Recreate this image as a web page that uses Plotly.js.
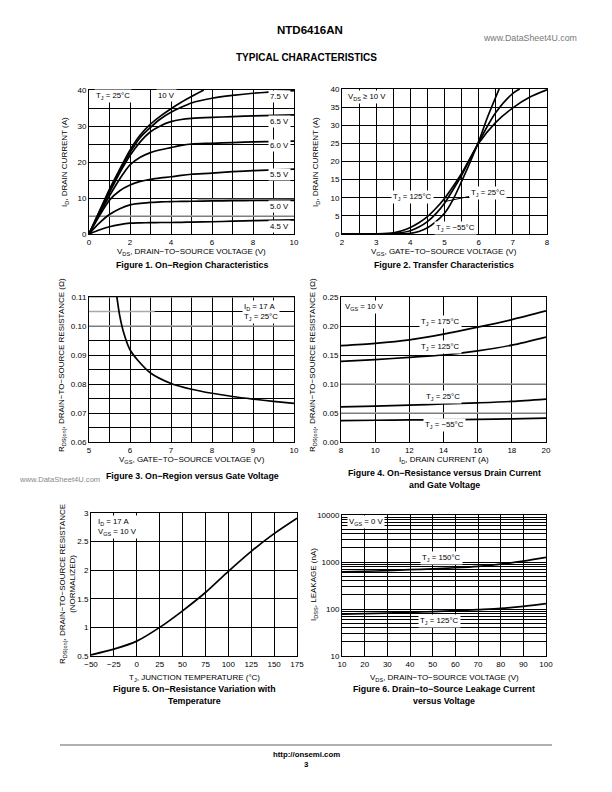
<!DOCTYPE html>
<html><head><meta charset="utf-8">
<script src="https://cdn.plot.ly/plotly-3.0.1.min.js"></script>
<style>html,body{margin:0;padding:0;background:#fff}#chart{width:612px;height:792px}</style>
</head><body><div id="chart"></div>
<script>
// ---------- Figure 1: On-Region Characteristics ----------
const f1_vds = [0, 0.5, 1, 1.5, 2, 2.5, 3, 3.5, 4, 4.5, 5, 6, 7, 8, 10];
const f1_id_45 = [0, 1.1, 2.0, 2.6, 3.0, 3.1, 3.15, 3.2, 3.2, 3.25, 3.3, 3.4, 3.55, 3.7, 3.9];
const f1_id_50 = [0, 3.0, 5.4, 7.0, 8.1, 8.5, 8.8, 8.9, 9.0, 9.05, 9.1, 9.2, 9.25, 9.3, 9.35];
const f1_id_55 = [0, 5.0, 9.4, 12.0, 13.6, 14.6, 15.2, 15.6, 15.9, 16.3, 16.6, 16.9, 17.3, 17.6, 18.0];
const f1_id_60 = [0, 5.5, 10.6, 15.3, 19.2, 21.3, 22.6, 23.4, 24.0, 24.6, 25.0, 25.2, 25.4, 25.6, 25.8];
const f1_id_65 = [0, 6.0, 11.5, 17.0, 21.8, 25.6, 28.4, 30.1, 31.2, 31.8, 32.1, 32.4, 32.6, 32.8, 33.1];
const f1_id_75 = [0, 6.1, 12.0, 17.5, 22.6, 26.8, 29.6, 32.0, 33.8, 35.2, 36.4, 37.7, 38.5, 39.1, 39.8];
const f1_vds_10 = [0, 0.5, 1, 1.5, 2, 2.5, 3, 3.5, 4, 4.5, 5, 5.6];
const f1_id_10 = [0, 6.2, 12.5, 18.0, 23.3, 27.5, 30.5, 32.8, 34.8, 36.6, 38.2, 40];
const f1_labels = ['4.5 V', '5.0 V', '5.5 V', '6.0 V', '6.5 V', '7.5 V', '10 V'];

// ---------- Figure 2: Transfer Characteristics ----------
const f2_vgs_125 = [2, 3, 3.5, 3.75, 4, 4.25, 4.5, 4.75, 5, 5.25, 5.5, 6, 6.5, 7, 7.5, 8];
const f2_id_125 = [0, 0.05, 0.3, 0.9, 1.8, 3.1, 4.8, 7.1, 9.8, 13.1, 16.7, 25, 30.8, 34.8, 37.8, 39.8];
const f2_vgs_25 = [2, 3, 3.5, 4, 4.25, 4.5, 4.75, 5, 5.25, 5.5, 6, 6.5, 7, 7.2];
const f2_id_25 = [0, 0, 0.1, 0.9, 1.9, 3.4, 5.6, 8.5, 12.2, 16.2, 25.3, 33.5, 38.8, 40];
const f2_vgs_m55 = [2, 3.5, 4, 4.25, 4.5, 4.75, 5, 5.25, 5.5, 5.75, 6, 6.25, 6.6];
const f2_id_m55 = [0, 0, 0.2, 0.7, 1.7, 3.4, 5.7, 9.5, 14.5, 19.8, 25.5, 32, 40];

// ---------- Figure 3: On-Region versus Gate Voltage ----------
const f3_vgs = [5.68, 5.75, 5.85, 6.0, 6.2, 6.5, 7.0, 7.5, 8.0, 8.5, 9.0, 9.5, 10.0];
const f3_rds = [0.110, 0.1035, 0.0975, 0.0918, 0.0880, 0.0838, 0.0802, 0.0782, 0.0768, 0.0757, 0.0748, 0.0740, 0.0733];

// ---------- Figure 4: On-Resistance versus Drain Current ----------
const f4_id = [8, 10, 12, 14, 16, 18, 20];
const f4_r175 = [0.166, 0.170, 0.176, 0.186, 0.198, 0.211, 0.226];
const f4_r125 = [0.139, 0.142, 0.146, 0.150, 0.157, 0.167, 0.181];
const f4_r25 = [0.0605, 0.062, 0.0635, 0.0655, 0.0675, 0.0700, 0.0740];
const f4_rm55 = [0.0370, 0.0375, 0.0380, 0.0385, 0.0390, 0.0400, 0.0410];

// ---------- Figure 5: On-Resistance Variation with Temperature ----------
const f5_tj = [-50, -25, 0, 25, 50, 75, 100, 125, 150, 175];
const f5_rn = [0.52, 0.62, 0.76, 1.0, 1.29, 1.61, 1.98, 2.33, 2.64, 2.91];

// ---------- Figure 6: Drain-to-Source Leakage Current ----------
const f6_vds = [10, 20, 30, 40, 50, 60, 70, 80, 90, 100];
const f6_i150 = [620, 635, 655, 685, 715, 755, 810, 900, 1040, 1250];
const f6_i125 = [78, 80, 82, 85, 88, 92, 97, 103, 114, 130];

// ---------- build ----------
const FONT = 'Liberation Sans, Arial, Helvetica, sans-serif';
const W = 612, H = 792;
const px = v => v / W, py = v => 1 - v / H;
const LINE = {color: 'black', width: 1.7, shape: 'spline', smoothing: 0.8};
const GRAY = '#a8a8a8';

function tr(x, y, ax) {
  return {x: x, y: y, type: 'scatter', mode: 'lines', line: LINE, xaxis: 'x' + ax, yaxis: 'y' + ax, hoverinfo: 'skip', showlegend: false};
}
const traces = [
  tr(f1_vds, f1_id_45, 1), tr(f1_vds, f1_id_50, 1), tr(f1_vds, f1_id_55, 1), tr(f1_vds, f1_id_60, 1),
  tr(f1_vds, f1_id_65, 1), tr(f1_vds, f1_id_75, 1), tr(f1_vds_10, f1_id_10, 1),
  tr(f2_vgs_125, f2_id_125, 2), tr(f2_vgs_25, f2_id_25, 2), tr(f2_vgs_m55, f2_id_m55, 2),
  tr(f3_vgs, f3_rds, 3),
  tr(f4_id, f4_r175, 4), tr(f4_id, f4_r125, 4), tr(f4_id, f4_r25, 4), tr(f4_id, f4_rm55, 4),
  tr(f5_tj, f5_rn, 5),
  tr(f6_vds, f6_i150, 6), tr(f6_vds, f6_i125, 6)
];

function axis(dom, range, extra) {
  return Object.assign({
    domain: dom, range: range, showline: true, mirror: true, linecolor: 'black', linewidth: 1,
    showgrid: true, gridcolor: 'black', gridwidth: 1, zeroline: false, ticks: '',
    tickfont: {family: FONT, size: 8, color: 'black'}, fixedrange: true
  }, extra || {});
}
const minorGrid = d => ({dtick: d, showgrid: true, gridcolor: 'black', gridwidth: 1, ticks: ''});

const decadeMinor = [];
[10, 100, 1000].forEach(d => { for (let k = 2; k <= 9; k++) decadeMinor.push(k * d); });

// light grey grid rules as printed in the datasheet
function grayH(ax, y, x0, x1) {
  return {type: 'line', xref: 'x' + ax, yref: 'y' + ax, x0: x0, x1: x1, y0: y, y1: y, layer: 'between', line: {color: GRAY, width: 1.3}};
}

const layout = {
  width: W, height: H, margin: {l: 0, r: 0, t: 0, b: 0}, paper_bgcolor: 'white', plot_bgcolor: 'white',
  font: {family: FONT, color: 'black', size: 8}, showlegend: false,
  xaxis1: axis([px(89), px(294)], [0, 10], {anchor: 'y1', dtick: 2, tick0: 0, minor: minorGrid(1)}),
  yaxis1: axis([py(234), py(90)], [0, 40], {anchor: 'x1', dtick: 10, tick0: 0, minor: minorGrid(5)}),
  xaxis2: axis([px(342), px(547)], [2, 8], {anchor: 'y2', dtick: 1, tick0: 2, minor: minorGrid(0.5)}),
  yaxis2: axis([py(234), py(89)], [0, 40], {anchor: 'x2', dtick: 5, tick0: 0}),
  xaxis3: axis([px(89), px(294)], [5, 10], {anchor: 'y3', dtick: 1, tick0: 5, minor: minorGrid(0.5)}),
  yaxis3: axis([py(442), py(297)], [0.06, 0.11], {anchor: 'x3', dtick: 0.01, tick0: 0.06, tickformat: '.2f', minor: minorGrid(0.005)}),
  xaxis4: axis([px(341), px(546)], [8, 20], {anchor: 'y4', dtick: 2, tick0: 8}),
  yaxis4: axis([py(442), py(297)], [0, 0.25], {anchor: 'x4', dtick: 0.05, tick0: 0, tickformat: '.2f'}),
  xaxis5: axis([px(91), px(297)], [-50, 175], {anchor: 'y5', dtick: 25, tick0: -50}),
  yaxis5: axis([py(656), py(513)], [0.5, 3], {anchor: 'x5', dtick: 0.5, tick0: 0.5}),
  xaxis6: axis([px(342), px(546)], [10, 100], {anchor: 'y6', dtick: 10, tick0: 10}),
  yaxis6: axis([py(656), py(515)], [1, 4], {anchor: 'x6', type: 'log', tickmode: 'array',
    tickvals: [10, 100, 1000, 10000], ticktext: ['10', '100', '1000', '10000'],
    minor: {tickmode: 'array', tickvals: decadeMinor, showgrid: true, gridcolor: 'black', gridwidth: 1, ticks: ''}}),
  annotations: [],
  shapes: [
    {type: 'line', xref: 'paper', yref: 'paper', x0: px(60), x1: px(552), y0: py(745), y1: py(745), line: {color: '#b0b0b0', width: 2}},
    grayH(1, 5, 0, 10), grayH(1, 9.6, 5.3, 10),
    grayH(3, 0.10, 5, 10), grayH(3, 0.105, 5, 6.6), grayH(3, 0.11, 5, 10),
    grayH(4, 0.10, 8, 20), grayH(4, 0.05, 8, 20)
  ]
};

const A = layout.annotations;
const LBL = {family: FONT, size: 7.8, color: 'black'};
function dl(text, x, y, ax, opt) {  // in-plot label with white box
  A.push(Object.assign({text: text, x: x, y: y, xref: 'x' + ax, yref: 'y' + ax, showarrow: false,
    bgcolor: 'white', borderpad: 1, font: LBL}, opt || {}));
}
function pl(text, x, y, opt) {  // page text
  A.push(Object.assign({text: text, x: px(x), y: py(y), xref: 'paper', yref: 'paper', showarrow: false,
    xanchor: 'center', yanchor: 'middle', font: {family: FONT, size: 8, color: 'black'}}, opt || {}));
}
const BOLD = s => '<b>' + s + '</b>';
const CAP = {font: {family: FONT, size: 8.8, color: 'black'}};

// Figure 1 labels
dl('T<sub>J</sub> = 25°C', 1.15, 38.2, 1);
dl(f1_labels[6], 3.8, 38.6, 1);
dl(f1_labels[5], 9.3, 38.3, 1);
dl(f1_labels[4], 9.3, 31.2, 1);
dl(f1_labels[3], 9.3, 24.7, 1);
dl(f1_labels[2], 9.3, 16.6, 1);
dl(f1_labels[1], 9.3, 7.6, 1);
dl(f1_labels[0], 9.3, 2.2, 1);
// Figure 2 labels
dl('V<sub>DS</sub> ≥ 10 V', 2.73, 37.8, 2);
dl('T<sub>J</sub> = 125°C', 4.05, 10.2, 2);
dl('T<sub>J</sub> = 25°C', 4.98, 8.9, 2, {showarrow: true, arrowhead: 0, arrowwidth: 1, arrowcolor: 'black', ax: 6.26, ay: 11.4, axref: 'x2', ayref: 'y2', standoff: 0});
dl('T<sub>J</sub> = −55°C', 5.33, 1.6, 2);
// Figure 3 labels
dl('I<sub>D</sub> = 17 A<br>T<sub>J</sub> = 25°C', 9.2, 0.1048, 3, {align: 'left'});
// Figure 4 labels
dl('V<sub>GS</sub> = 10 V', 9.4, 0.233, 4);
dl('T<sub>J</sub> = 175°C', 13.85, 0.207, 4);
dl('T<sub>J</sub> = 125°C', 13.85, 0.164, 4);
dl('T<sub>J</sub> = 25°C', 13.97, 0.0776, 4);
dl('T<sub>J</sub> = −55°C', 14.05, 0.0293, 4);
// Figure 5 labels
dl('I<sub>D</sub> = 17 A<br>V<sub>GS</sub> = 10 V', -21.6, 2.75, 5, {align: 'left'});
// Figure 6 labels
dl('V<sub>GS</sub> = 0 V', 20.6, Math.log10(7200), 6);
dl('T<sub>J</sub> = 150°C', 54, Math.log10(1200), 6);
dl('T<sub>J</sub> = 125°C', 52.8, Math.log10(56), 6);

// Page texts
pl(BOLD('NTD6416AN'), 310, 30, {font: {family: FONT, size: 11.5, color: 'black'}});
pl('www.DataSheet4U.com', 530, 38, {font: {family: FONT, size: 8.8, color: '#777'}});
pl(BOLD('TYPICAL CHARACTERISTICS'), 306, 58, {font: {family: FONT, size: 10, color: 'black'}});

// Figure 1 texts
pl('V<sub>DS</sub>, DRAIN−TO−SOURCE VOLTAGE (V)', 191, 252);
pl(BOLD('Figure 1. On−Region Characteristics'), 192, 265, CAP);
pl('I<sub>D</sub>, DRAIN CURRENT (A)', 65, 162, {textangle: -90});
// Figure 2 texts
pl('V<sub>GS</sub>, GATE−TO−SOURCE VOLTAGE (V)', 444, 252);
pl(BOLD('Figure 2. Transfer Characteristics'), 444, 265, CAP);
pl('I<sub>D</sub>, DRAIN CURRENT (A)', 316, 162, {textangle: -90});
// Figure 3 texts
pl('V<sub>GS</sub>, GATE−TO−SOURCE VOLTAGE (V)', 192, 460);
pl(BOLD('Figure 3. On−Region versus Gate Voltage'), 192, 476, CAP);
pl('R<sub>DS(on)</sub>, DRAIN−TO−SOURCE RESISTANCE (Ω)', 62, 365, {textangle: -90});
pl('www.DataSheet4U.com', 59, 479, {font: {family: FONT, size: 7.6, color: '#888'}});
// Figure 4 texts
pl('I<sub>D</sub>, DRAIN CURRENT (A)', 444, 460);
pl(BOLD('Figure 4. On−Resistance versus Drain Current'), 444, 473, CAP);
pl(BOLD('and Gate Voltage'), 444, 485, CAP);
pl('R<sub>DS(on)</sub>, DRAIN−TO−SOURCE RESISTANCE (Ω)', 313, 365, {textangle: -90});
// Figure 5 texts
pl('T<sub>J</sub>, JUNCTION TEMPERATURE (°C)', 194, 678);
pl(BOLD('Figure 5. On−Resistance Variation with'), 194, 689, CAP);
pl(BOLD('Temperature'), 194, 701, CAP);
pl('R<sub>DS(on)</sub>, DRAIN−TO−SOURCE RESISTANCE<br>(NORMALIZED)', 67, 584, {textangle: -90});
// Figure 6 texts
pl('V<sub>DS</sub>, DRAIN−TO−SOURCE VOLTAGE (V)', 444, 678);
pl(BOLD('Figure 6. Drain−to−Source Leakage Current'), 444, 689, CAP);
pl(BOLD('versus Voltage'), 444, 701, CAP);
pl('I<sub>DSS</sub>, LEAKAGE (nA)', 314, 585, {textangle: -90});
// footer
pl(BOLD('http://onsemi.com'), 306, 754, {font: {family: FONT, size: 7.8, color: 'black'}});
pl(BOLD('3'), 306, 764, {font: {family: FONT, size: 7.8, color: 'black'}});

Plotly.newPlot('chart', traces, layout, {staticPlot: true, displayModeBar: false});
</script></body></html>
